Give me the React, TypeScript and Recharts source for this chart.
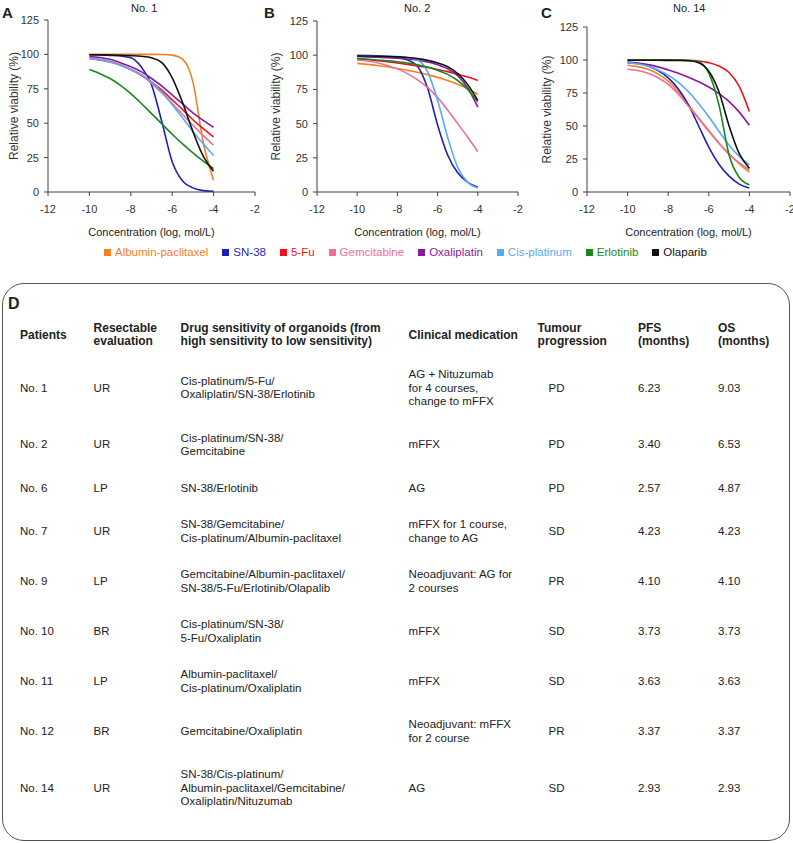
import { LineChart, Line, XAxis, YAxis } from 'recharts';

const FONT = '"Liberation Sans", Arial, sans-serif';

// log concentration grid the curves were read at
const logConc = [-10, -9.5, -9, -8.5, -8, -7.5, -7, -6.5, -6, -5.5, -5, -4.5, -4];
const xTicks = [-12, -10, -8, -6, -4, -2];
const yTicks = [0, 25, 50, 75, 100, 125];

const drugNames = ['Albumin-paclitaxel', 'SN-38', '5-Fu', 'Gemcitabine', 'Oxaliplatin', 'Cis-platinum', 'Erlotinib', 'Olaparib'];
const drugColors = ['#f5801f', '#1f1fb8', '#e8161c', '#f06c9c', '#8a1a9c', '#5aaaf0', '#16881c', '#111111'];

// No. 1
const no1Albumin = [100, 100, 100, 100, 100, 100, 100, 99.9, 99.5, 96.5, 80, 36, 8.5];
const no1SN38 = [99.8, 99.6, 99.3, 98.8, 97.5, 91, 78, 51, 22, 8, 3, 1, 0.5];
const no1FiveFu = [97, 96, 94.5, 92.3, 89, 85, 80, 74, 67, 60, 52.5, 46, 40];
const no1Gem = [97.5, 96.5, 95, 92.5, 89, 85, 79, 72, 64.5, 56.5, 48.5, 41, 34];
const no1Oxa = [98.5, 97.8, 96.5, 94, 91, 87.5, 82.5, 77, 70.5, 64, 57.5, 52, 47];
const no1Cis = [97, 96, 94.5, 92, 89, 85.5, 80, 72.5, 63.5, 54, 44, 35, 26.5];
const no1Erl = [89, 86, 82.5, 77.5, 71.5, 64.5, 57, 49.5, 42, 35, 28.5, 22.5, 17];
const no1Ola = [99.8, 99.7, 99.6, 99.4, 99.1, 98.6, 97.5, 94, 83, 65, 44, 26, 15];

// No. 2
const no2Albumin = [94, 93.3, 92.5, 91.5, 90.3, 89, 87.5, 85.8, 83.8, 81.5, 78.8, 75.5, 71.5];
const no2SN38 = [99.8, 99.7, 99.5, 99.1, 98.5, 96.5, 92, 76, 49, 27, 14, 7, 3.5];
const no2FiveFu = [97.5, 96.8, 96, 95.2, 94.3, 93.3, 92.2, 91, 89.5, 88, 86, 84, 81.5];
const no2Gem = [96.5, 95.8, 94.5, 92.5, 90, 86.5, 82, 76.5, 69, 60, 50, 40, 29.5];
const no2Oxa = [99, 98.8, 98.5, 98.2, 97.8, 97.2, 96.3, 95, 93, 90, 85, 76, 62];
const no2Cis = [99.8, 99.7, 99.6, 99.4, 99, 98.3, 96.5, 88, 67, 40, 18, 7, 3];
const no2Erl = [97.5, 97, 96.5, 96, 95.2, 94.3, 93, 91.3, 89, 86, 81.5, 75, 66];
const no2Ola = [99.5, 99.4, 99.3, 99.1, 98.8, 98.3, 97.5, 96.2, 94.3, 91.5, 86.5, 78.5, 67];

// No. 14
const no14Albumin = [96, 95, 93, 89.5, 84, 76, 66, 56, 46.5, 37, 29, 21.5, 15];
const no14SN38 = [98, 97.3, 95.5, 92, 86.5, 78, 66, 50, 34, 21, 12, 6, 3];
const no14FiveFu = [100, 100, 100, 100, 100, 99.9, 99.8, 99.3, 98, 95.5, 90.5, 80, 61];
const no14Gem = [93, 92, 90, 86.5, 81.5, 74, 65, 55.5, 46, 37, 28.5, 22, 17];
const no14Oxa = [98.5, 97.7, 96.5, 94.8, 92.5, 90, 87, 83.5, 79.5, 74.5, 68.5, 60.5, 50.5];
const no14Cis = [98, 97, 95.5, 92.5, 88.5, 83, 76, 67, 57, 46, 35.5, 27, 20.5];
const no14Erl = [100, 100, 100, 100, 100, 99.9, 99.6, 98.5, 90, 66, 28, 11, 5.5];
const no14Ola = [99.8, 99.8, 99.8, 99.8, 99.7, 99.6, 99.4, 98, 91.5, 76, 50, 29, 18];

// table D
const tableHeaders = [
  ['Patients'],
  ['Resectable', 'evaluation'],
  ['Drug sensitivity of organoids (from', 'high sensitivity to low sensitivity)'],
  ['Clinical medication'],
  ['Tumour', 'progression'],
  ['PFS', '(months)'],
  ['OS', '(months)'],
];
const patients = ['No. 1', 'No. 2', 'No. 6', 'No. 7', 'No. 9', 'No. 10', 'No. 11', 'No. 12', 'No. 14'];
const resectable = ['UR', 'UR', 'LP', 'UR', 'LP', 'BR', 'LP', 'BR', 'UR'];
const sensitivity = [
  ['Cis-platinum/5-Fu/', 'Oxaliplatin/SN-38/Erlotinib'],
  ['Cis-platinum/SN-38/', 'Gemcitabine'],
  ['SN-38/Erlotinib'],
  ['SN-38/Gemcitabine/', 'Cis-platinum/Albumin-paclitaxel'],
  ['Gemcitabine/Albumin-paclitaxel/', 'SN-38/5-Fu/Erlotinib/Olapalib'],
  ['Cis-platinum/SN-38/', '5-Fu/Oxaliplatin'],
  ['Albumin-paclitaxel/', 'Cis-platinum/Oxaliplatin'],
  ['Gemcitabine/Oxaliplatin'],
  ['SN-38/Cis-platinum/', 'Albumin-paclitaxel/Gemcitabine/', 'Oxaliplatin/Nituzumab'],
];
const medication = [
  ['AG + Nituzumab', 'for 4 courses,', 'change to mFFX'],
  ['mFFX'],
  ['AG'],
  ['mFFX for 1 course,', 'change to AG'],
  ['Neoadjuvant: AG for', '2 courses'],
  ['mFFX'],
  ['mFFX'],
  ['Neoadjuvant: mFFX', 'for 2 course'],
  ['AG'],
];
const progression = ['PD', 'PD', 'PD', 'SD', 'PR', 'SD', 'SD', 'PR', 'SD'];
const pfs = ['6.23', '3.40', '2.57', '4.23', '4.10', '3.73', '3.63', '3.37', '2.93'];
const os = ['9.03', '6.53', '4.87', '4.23', '4.10', '3.73', '3.63', '3.37', '2.93'];

const colWidths = [73.6, 87, 228, 129, 100.4, 80, 70];

function buildRows(series: number[][]) {
  return logConc.map((x, i) => {
    const row: Record<string, number> = { x };
    series.forEach((s, k) => {
      row['d' + k] = s[i];
    });
    return row;
  });
}

const axisStroke = '#404040';
const tickStyle = { fontSize: 11, fill: '#333', fontFamily: FONT };

function ViabilityChart({ left, width, top, right, yAxisWidth, labelOffset, series }: any) {
  return (
    <div style={{ position: 'absolute', left, top: 0 }}>
      <LineChart width={width} height={240} data={buildRows(series)} margin={{ top, right, left: 0, bottom: 0 }}>
        <XAxis
          type="number"
          dataKey="x"
          domain={[-12, -2]}
          ticks={xTicks}
          height={48}
          stroke={axisStroke}
          tickSize={4}
          tickMargin={9}
          tick={tickStyle}
          label={{ value: 'Concentration (log, mol/L)', position: 'insideBottom', offset: 4, style: { fontSize: 11, fill: '#222', fontFamily: FONT } }}
        />
        <YAxis
          type="number"
          domain={[0, 125]}
          ticks={yTicks}
          width={yAxisWidth}
          stroke={axisStroke}
          tickSize={4}
          tickMargin={5}
          tick={tickStyle}
          label={{ value: 'Relative viability (%)', angle: -90, position: 'insideLeft', offset: labelOffset, style: { textAnchor: 'middle', fontSize: 12, fill: '#333', fontFamily: FONT } }}
        />
        {series.map((_: number[], k: number) => (
          <Line
            key={k}
            type="monotone"
            dataKey={'d' + k}
            stroke={drugColors[k]}
            strokeWidth={1.6}
            dot={false}
            isAnimationActive={false}
          />
        ))}
      </LineChart>
    </div>
  );
}

function PanelText({ left, top, children, bold = false, size = 11 }: any) {
  return (
    <div style={{ position: 'absolute', left, top, fontSize: size, fontWeight: bold ? 700 : 400, lineHeight: `${size + 4}px`, color: '#222', whiteSpace: 'nowrap' }}>
      {children}
    </div>
  );
}

function Lines({ lines }: { lines: string[] }) {
  return (
    <>
      {lines.map((l, i) => (
        <div key={i}>{l}</div>
      ))}
    </>
  );
}

export default function App() {
  const cell = { padding: '11.5px 0', lineHeight: '13.5px', verticalAlign: 'middle' as const, whiteSpace: 'nowrap' as const };
  const head = { padding: '7.75px 0', lineHeight: '13.5px', verticalAlign: 'middle' as const, whiteSpace: 'nowrap' as const, fontWeight: 700, fontSize: 12 };

  return (
    <div style={{ position: 'absolute', left: 0, top: 0, width: 793, height: 843, overflow: 'hidden', background: '#fff', fontFamily: FONT, color: '#222' }}>
      {/* panel letters and titles */}
      <PanelText left={2} top={3} bold size={15}>A</PanelText>
      <PanelText left={264} top={3} bold size={15}>B</PanelText>
      <PanelText left={541} top={3} bold size={15}>C</PanelText>
      <PanelText left={131} top={1}>No. 1</PanelText>
      <PanelText left={404} top={1}>No. 2</PanelText>
      <PanelText left={673} top={1}>No. 14</PanelText>

      <ViabilityChart left={0} width={265} top={20} right={10} yAxisWidth={48} labelOffset={14}
        series={[no1Albumin, no1SN38, no1FiveFu, no1Gem, no1Oxa, no1Cis, no1Erl, no1Ola]} />
      <ViabilityChart left={262} width={266} top={21} right={10} yAxisWidth={55} labelOffset={14}
        series={[no2Albumin, no2SN38, no2FiveFu, no2Gem, no2Oxa, no2Cis, no2Erl, no2Ola]} />
      <ViabilityChart left={527} width={275} top={27} right={12} yAxisWidth={60} labelOffset={20}
        series={[no14Albumin, no14SN38, no14FiveFu, no14Gem, no14Oxa, no14Cis, no14Erl, no14Ola]} />

      {/* shared legend */}
      <div style={{ position: 'absolute', left: 104, top: 245, display: 'flex', alignItems: 'center', gap: 14, fontSize: 11.5, lineHeight: '14px' }}>
        {drugNames.map((name, k) => (
          <div key={name} style={{ display: 'flex', alignItems: 'center' }}>
            <span style={{ display: 'inline-block', width: 7, height: 7, background: drugColors[k], marginRight: 4 }} />
            <span style={{ color: drugColors[k] }}>{name}</span>
          </div>
        ))}
      </div>

      {/* panel D table */}
      <div style={{ position: 'absolute', left: 2, top: 283, width: 786, height: 556, border: '1.5px solid #555', borderRadius: 22 }} />
      <PanelText left={8} top={294} bold size={16}>D</PanelText>
      <table style={{ position: 'absolute', left: 20, top: 314, borderCollapse: 'collapse', fontSize: 11.5, tableLayout: 'fixed' }}>
        <colgroup>
          {colWidths.map((w, i) => (
            <col key={i} style={{ width: w }} />
          ))}
        </colgroup>
        <thead>
          <tr>
            {tableHeaders.map((h, i) => (
              <td key={i} style={head}>
                <Lines lines={h} />
              </td>
            ))}
          </tr>
        </thead>
        <tbody>
          {patients.map((p, r) => (
            <tr key={p}>
              <td style={cell}>{p}</td>
              <td style={cell}>{resectable[r]}</td>
              <td style={cell}><Lines lines={sensitivity[r]} /></td>
              <td style={cell}><Lines lines={medication[r]} /></td>
              <td style={{ ...cell, paddingLeft: 11 }}>{progression[r]}</td>
              <td style={cell}>{pfs[r]}</td>
              <td style={cell}>{os[r]}</td>
            </tr>
          ))}
        </tbody>
      </table>
    </div>
  );
}
